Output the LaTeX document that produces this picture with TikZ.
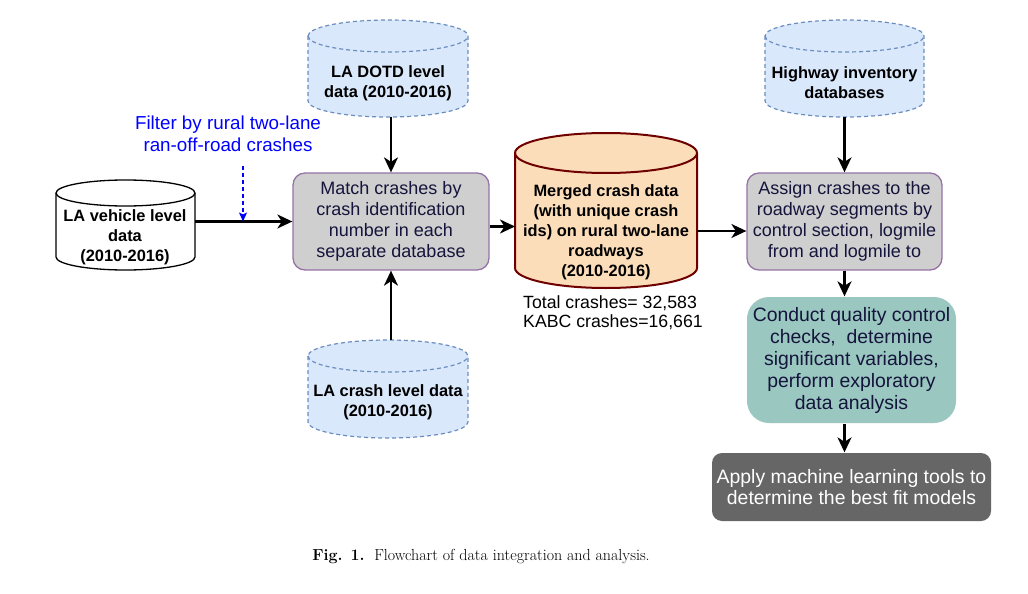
\documentclass[tikz,border=0pt]{standalone}
\usepackage{fontspec}
\newfontfamily\hv{Liberation Sans}
\usetikzlibrary{arrows.meta}
\definecolor{dbfill}{HTML}{DAE8FC}
\definecolor{dbline}{HTML}{6C8EBF}
\definecolor{procfill}{HTML}{CFCFCF}
\definecolor{procline}{HTML}{9673A6}
\definecolor{mergefill}{HTML}{FCDDBA}
\definecolor{mergeline}{HTML}{6F0000}
\definecolor{qcfill}{HTML}{9AC7BF}
\definecolor{mlfill}{HTML}{666666}
\definecolor{navy}{HTML}{14143C}
% #1 style, #2 name, #3 x left, #4 y top, #5 width, #6 height, #7 y radius
\newcommand\dbcyl[7]{%
  \path[#1] (#3,#4+#7) -- (#3,#4+#6-#7)
    arc[start angle=180,end angle=360,x radius={#5/2*1pt},y radius=#7pt]
    -- (#3+#5,#4+#7)
    arc[start angle=0,end angle=180,x radius={#5/2*1pt},y radius=#7pt] -- cycle;
  \path[#1,fill=none] (#3,#4+#7)
    arc[start angle=180,end angle=360,x radius={#5/2*1pt},y radius=#7pt];
  \node[holder,minimum width=#5pt,minimum height=#6pt] (#2) at (#3+#5/2,#4+#6/2) {};
}
\begin{document}
\begin{tikzpicture}[x=1pt,y=-1pt,
  holder/.style={inner sep=0pt,outer sep=0pt},
  arr/.style={line width=2.2pt,-{Stealth[length=15pt,width=14pt,inset=4.5pt]}},
  filt/.style={blue,line width=1.3pt,dash pattern=on 4pt off 3pt,-{Stealth[length=9pt,width=8pt,inset=2pt]}},
  proc/.style={rounded corners=12pt,draw=procline,line width=1.3pt,fill=procfill,text=navy,align=center,
    inner sep=0pt,font=\hv\fontsize{18}{21}\selectfont},
  boldt/.style={align=center,inner sep=0pt,font=\hv\bfseries\fontsize{16.4}{20}\selectfont},
  dbshape/.style={fill=dbfill,draw=dbline,line width=1.2pt,dash pattern=on 4pt off 3pt},
  vshape/.style={fill=white,draw=black,line width=1.3pt},
  mshape/.style={fill=mergefill,draw=mergeline,line width=2pt}]
\useasboundingbox[fill=white] (0,0) rectangle (1028,594);

% cylinders
\dbcyl{vshape}{vehicle}{56}{180}{139}{90}{13}
\node[boldt] (vehicleT) at (125,237) {LA vehicle level\\data\\(2010-2016)};
\dbcyl{dbshape}{dotd}{308}{20}{160}{97}{16}
\node[boldt] (dotdT) at (388,83) {LA DOTD level\\data (2010-2016)};
\dbcyl{dbshape}{crash}{308}{340}{160}{98}{16}
\node[boldt] (crashT) at (388,402) {LA crash level data\\(2010-2016)};
\dbcyl{mshape}{merged}{515}{133}{182}{155}{20}
\node[boldt] (mergedT) at (606,232) {Merged crash data\\(with unique crash\\ids) on rural two-lane\\roadways\\(2010-2016)};
\dbcyl{dbshape}{highway}{765}{20}{159}{97}{16}
\node[boldt] (highwayT) at (844.5,83) {Highway inventory\\databases};

% process boxes
\node[proc,minimum width=196pt,minimum height=97pt] (match) at (391,221.5)
  {Match crashes by\\crash identification\\number in each\\separate database};
\node[proc,minimum width=195pt,minimum height=97pt] (assign) at (844.5,221.5)
  {Assign crashes to the\\roadway segments by\\control section, logmile\\from and logmile to};
\node[proc,draw=none,fill=qcfill,rounded corners=22pt,minimum width=209pt,minimum height=126pt,
  font=\hv\fontsize{19.4}{22}\selectfont] (conduct) at (851.5,360)
  {Conduct quality control\\checks,\ \ determine\\significant variables,\\perform exploratory\\data analysis};
\node[proc,draw=none,fill=mlfill,text=white,rounded corners=10pt,minimum width=279pt,minimum height=68pt,
  font=\hv\fontsize{19.4}{21}\selectfont] (apply) at (851.5,487)
  {Apply machine learning tools to\\determine the best fit models};

% texts
\node[text=blue,align=center,inner sep=0pt,font=\hv\fontsize{18.8}{22}\selectfont] (filter) at (228,134)
  {Filter by rural two-lane\\ran-off-road crashes};
\node[anchor=west,align=left,inner sep=0pt,font=\hv\fontsize{17.7}{19.5}\selectfont] (totals) at (523,312.5)
  {Total crashes= 32,583\\KABC crashes=16,661};
\node[inner sep=0pt,font=\fontsize{16}{19}\selectfont] (caption) at (481,557)
  {\textbf{Fig. 1.}\ \ Flowchart of data integration and analysis.};

% connectors
\draw[arr] (vehicle.east |- match.west) -- (match.west);
\coordinate (fs) at (243,166);
\draw[filt] (fs) -- (fs |- match.west);
\draw[arr] (match.north |- dotd.south) -- (match.north);
\draw[arr] (match.south |- crash.north) -- (match.south);
\draw[arr] ([yshift=-5pt]match.east) -- ([yshift=-5pt]match.east -| merged.west);
\draw[arr] ([yshift=-9.5pt]assign.west -| merged.east) -- ([yshift=-9.5pt]assign.west);
\draw[arr] (highway.south) -- (highway.south |- assign.north);
\draw[arr] (highway.south |- assign.south) -- (highway.south |- conduct.north);
\draw[arr] (highway.south |- conduct.south) -- (highway.south |- apply.north);
\end{tikzpicture}
\end{document}
